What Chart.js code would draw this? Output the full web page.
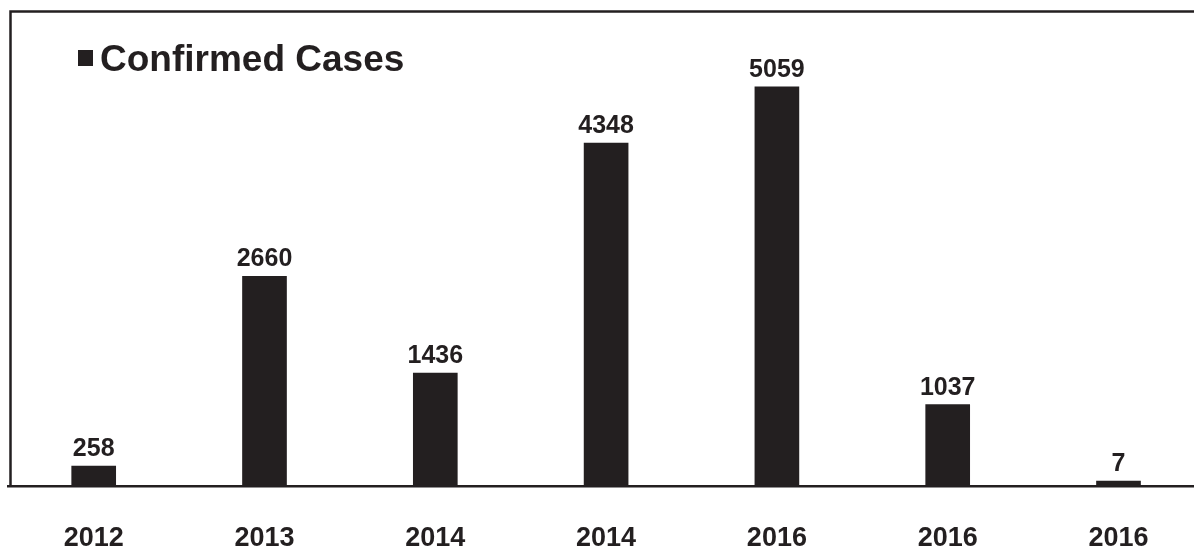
<!DOCTYPE html>
<html>
<head>
<meta charset="utf-8">
<script src="https://cdn.jsdelivr.net/npm/chart.js@4/dist/chart.umd.min.js"></script>
<style>
  html, body { margin: 0; padding: 0; background: #ffffff; width: 1194px; height: 548px; overflow: hidden; }
  #wrap { position: absolute; left: 0; top: 0; width: 1212px; height: 548px; }
</style>
</head>
<body>
<div id="wrap"><canvas id="c" width="1212" height="548"></canvas></div>
<script>
const categories = ['2012', '2013', '2014', '2014', '2016', '2016', '2016'];
const confirmedCases = [258, 2660, 1436, 4348, 5059, 1037, 7];
const seriesName = 'Confirmed Cases';
const yMin = 0;
const yMax = 6000;

const INK = '#231f20';
const FONT = '"Liberation Sans", Arial, Helvetica, sans-serif';

const framePlugin = {
  id: 'frame',
  beforeDraw(chart) {
    const ctx = chart.ctx;
    ctx.save();
    ctx.strokeStyle = INK;
    ctx.lineWidth = 2.5;
    ctx.beginPath();
    ctx.moveTo(10.5, 487);
    ctx.lineTo(10.5, 11.5);
    ctx.lineTo(1212, 11.5);
    ctx.stroke();
    ctx.restore();
  },
  afterDraw(chart) {
    const ctx = chart.ctx;
    ctx.save();
    ctx.fillStyle = INK;
    ctx.fillRect(78, 50, 15, 16);
    ctx.font = 'bold 37px ' + FONT;
    ctx.textBaseline = 'alphabetic';
    ctx.textAlign = 'left';
    ctx.fillText(chart.data.datasets[0].label, 100, 71);
    ctx.restore();
  }
};

const valueLabels = {
  id: 'valueLabels',
  afterDatasetsDraw(chart) {
    const ctx = chart.ctx;
    const meta = chart.getDatasetMeta(0);
    ctx.save();
    ctx.fillStyle = INK;
    ctx.font = 'bold 25px ' + FONT;
    ctx.textAlign = 'center';
    ctx.textBaseline = 'alphabetic';
    meta.data.forEach((bar, i) => {
      ctx.fillText(String(chart.data.datasets[0].data[i]), bar.x, bar.y - 10);
    });
    ctx.restore();
  }
};

new Chart(document.getElementById('c'), {
  type: 'bar',
  data: {
    labels: categories,
    datasets: [{
      label: seriesName,
      data: confirmedCases,
      backgroundColor: INK,
      borderWidth: 0,
      barThickness: 44,
      minBarLength: 5.5
    }]
  },
  options: {
    responsive: false,
    animation: false,
    devicePixelRatio: 1,
    layout: { padding: { left: 8.3, right: 8.1, top: 12.5, bottom: 0 } },
    plugins: { legend: { display: false }, tooltip: { enabled: false } },
    scales: {
      x: {
        offset: true,
        grid: { display: false, drawTicks: false },
        border: { display: true, color: INK, width: 2.5 },
        ticks: {
          color: INK,
          padding: 36,
          font: { family: FONT, size: 27, weight: 'bold' },
          maxRotation: 0,
          autoSkip: false
        },
        afterFit(scale) { scale.height = 61.5; }
      },
      y: {
        display: false,
        min: yMin,
        max: yMax
      }
    }
  },
  plugins: [framePlugin, valueLabels]
});
</script>
</body>
</html>
